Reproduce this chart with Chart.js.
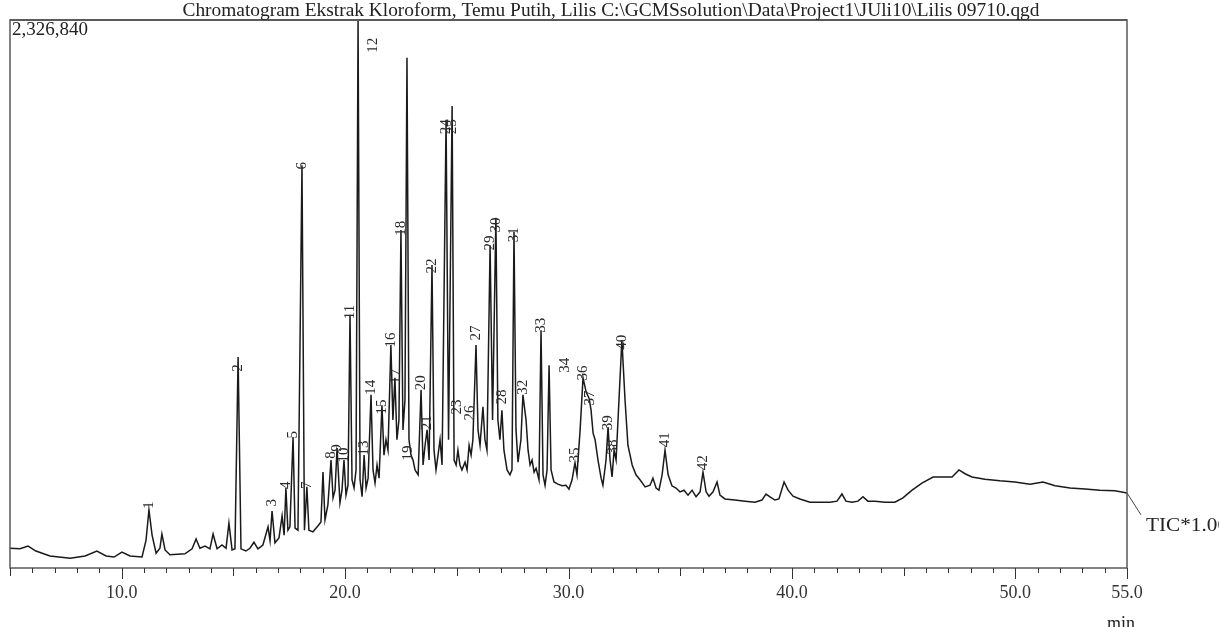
<!DOCTYPE html>
<html>
<head>
<meta charset="utf-8">
<script src="https://cdn.jsdelivr.net/npm/chart.js@4/dist/chart.umd.min.js"></script>
<style>
  html, body { margin: 0; padding: 0; background: #fff; }
  #wrap { position: relative; width: 1219px; height: 627px; }
</style>
</head>
<body>
<div id="wrap"><canvas id="chart" width="1219" height="627"></canvas></div>
<script>
// retention time (min) and TIC intensity (% of 2,326,840 full scale)
var retentionTime = [
  5.00, 5.45, 5.81, 6.16, 6.79, 7.69, 8.36, 8.89, 9.30, 9.66, 10.01, 10.37, 10.91,
  11.09, 11.22, 11.36, 11.54, 11.71, 11.80, 11.94, 12.16, 12.83, 13.15, 13.33, 13.50,
  13.73, 13.95, 14.09, 14.27, 14.49, 14.67, 14.80, 14.94, 15.07, 15.21, 15.34, 15.56,
  15.74, 15.92, 16.10, 16.32, 16.55, 16.64, 16.73, 16.86, 17.04, 17.18, 17.27, 17.35,
  17.44, 17.53, 17.67, 17.76, 17.89, 18.07, 18.18, 18.29, 18.38, 18.56, 18.79, 18.92,
  19.01, 19.10, 19.23, 19.37, 19.46, 19.55, 19.64, 19.77, 19.86, 19.95, 20.04, 20.13,
  20.22, 20.31, 20.40, 20.49, 20.58, 20.67, 20.76, 20.85, 20.94, 21.03, 21.16, 21.25,
  21.34, 21.43, 21.52, 21.65, 21.74, 21.83, 21.92, 22.05, 22.14, 22.23, 22.32, 22.41,
  22.50, 22.59, 22.68, 22.77, 22.86, 22.95, 23.04, 23.13, 23.27, 23.40, 23.49, 23.58,
  23.67, 23.76, 23.89, 23.98, 24.07, 24.16, 24.25, 24.34, 24.52, 24.63, 24.79, 24.88,
  24.97, 25.05, 25.14, 25.23, 25.37, 25.46, 25.55, 25.64, 25.72, 25.86, 25.95, 26.04,
  26.17, 26.26, 26.35, 26.49, 26.60, 26.75, 26.84, 26.93, 27.02, 27.11, 27.25, 27.38,
  27.47, 27.56, 27.65, 27.74, 27.87, 27.96, 28.10, 28.19, 28.28, 28.37, 28.46, 28.55,
  28.68, 28.77, 28.86, 28.95, 29.04, 29.13, 29.22, 29.35, 29.53, 29.71, 29.89, 30.02,
  30.16, 30.29, 30.38, 30.52, 30.65, 30.79, 30.92, 31.01, 31.10, 31.19, 31.32, 31.46,
  31.54, 31.68, 31.77, 31.86, 31.95, 32.04, 32.13, 32.26, 32.39, 32.53, 32.66, 32.85,
  33.02, 33.20, 33.43, 33.65, 33.78, 33.92, 34.05, 34.19, 34.32, 34.46, 34.63, 34.81,
  34.99, 35.17, 35.35, 35.53, 35.71, 35.89, 36.02, 36.16, 36.29, 36.47, 36.65, 36.78,
  37.00, 37.45, 37.90, 38.35, 38.66, 38.84, 39.02, 39.24, 39.42, 39.65, 39.83, 40.05,
  40.36, 40.81, 41.26, 41.71, 42.02, 42.24, 42.42, 42.69, 42.96, 43.18, 43.40, 43.72,
  44.17, 44.61, 44.97, 45.38, 45.82, 46.32, 46.85, 47.17, 47.48, 47.75, 48.06, 48.64,
  49.31, 49.98, 50.66, 51.24, 51.78, 52.45, 53.12, 53.79, 54.46, 55.00
];
var ticIntensity = [
  3.6, 3.5, 4.0, 3.1, 2.2, 1.8, 2.2, 3.1, 2.2, 2.0, 2.9, 2.2, 2.0,
  5.1, 10.6, 6.0, 2.7, 3.6, 6.2, 3.3, 2.4, 2.6, 3.5, 5.3, 3.6,
  4.0, 3.5, 6.2, 3.5, 4.2, 3.6, 8.2, 3.3, 3.5, 38.5, 3.5, 3.1,
  3.6, 4.7, 3.5, 4.2, 7.5, 5.0, 10.4, 4.6, 5.5, 9.5, 6.0, 14.6,
  6.9, 7.5, 23.9, 7.3, 6.9, 73.5, 6.9, 14.8, 6.9, 6.6, 7.7, 8.4,
  17.5, 8.8, 11.5, 19.7, 12.8, 14.2, 21.9, 11.9, 14.2, 19.7, 13.3, 15.1,
  46.2, 16.1, 14.6, 17.9, 100, 16.1, 13.0, 20.6, 14.6, 16.4, 31.6, 17.9,
  15.5, 18.8, 16.4, 29.7, 20.6, 23.4, 21.5, 40.7, 27.0, 34.7, 23.4, 27.0,
  61.7, 25.2, 30.7, 93.1, 23.4, 20.6, 19.7, 17.9, 17.0, 32.5, 18.8, 22.4,
  25.2, 19.7, 55.3, 21.5, 17.9, 20.6, 23.4, 18.8, 81.8, 23.4, 84.3, 19.7,
  18.8, 21.5, 18.8, 17.9, 19.3, 17.9, 22.4, 20.6, 23.4, 40.7, 25.2, 22.4,
  29.4, 23.4, 21.5, 58.9, 27.0, 63.9, 27.0, 23.4, 28.8, 21.5, 17.9, 17.0,
  17.9, 61.3, 25.2, 19.3, 23.4, 31.6, 27.0, 21.5, 18.8, 19.7, 17.5, 18.2,
  16.1, 43.4, 17.0, 15.1, 17.9, 37.0, 17.9, 15.7, 15.3, 15.0, 15.1, 14.4,
  16.1, 19.2, 17.0, 25.2, 34.7, 32.1, 31.0, 28.8, 24.6, 23.4, 19.7, 16.4,
  15.1, 19.7, 25.7, 19.7, 16.6, 21.5, 19.7, 30.7, 41.6, 30.7, 22.4, 18.8,
  17.0, 16.1, 14.8, 15.1, 16.4, 14.6, 14.2, 17.0, 21.5, 17.0, 15.0, 14.6,
  13.9, 14.2, 13.3, 14.2, 13.0, 13.9, 17.5, 13.9, 13.1, 13.9, 15.7, 13.3,
  12.6, 12.4, 12.2, 12.0, 12.4, 13.5, 13.0, 12.4, 12.6, 15.7, 14.2, 13.1,
  12.6, 12.0, 12.0, 12.0, 12.2, 13.5, 12.2, 12.0, 12.2, 13.0, 12.2, 12.2,
  12.0, 12.0, 12.8, 14.2, 15.5, 16.6, 16.6, 16.6, 17.9, 17.2, 16.6, 16.2,
  15.9, 15.7, 15.3, 15.7, 15.0, 14.6, 14.4, 14.2, 14.1, 13.7
];

// peak numbers, where their labels sit (time, intensity)
var peakNumbers = ["1","2","3","4","5","6","7","8","9","10","11","12","13","14","15","16","17","18","19","20","21",
  "22","23","24","25","26","27","28","29","30","31","32","33","34","35","36","37","38","39","40","41","42"];
var peakTimes = [11.22, 15.21, 16.73, 17.35, 17.67, 18.07, 18.29, 19.37, 19.64, 19.95, 20.22, 21.25, 20.85, 21.16,
  21.65, 22.05, 22.28, 22.50, 22.81, 23.40, 23.67, 23.89, 25.01, 24.52, 24.79, 25.59, 25.86, 27.02, 26.49,
  26.75, 27.56, 27.96, 28.77, 29.84, 30.29, 30.65, 30.96, 31.99, 31.77, 32.39, 34.32, 36.02];
var peakLevels = [11.5, 36.5, 11.9, 15.1, 24.3, 73.4, 15.1, 20.6, 21.9, 20.6, 46.7, 95.4, 21.9, 33.0,
  29.4, 41.6, 35.0, 62.0, 21.0, 33.8, 26.5, 55.1, 29.4, 80.5, 80.5, 28.3, 42.9, 31.2, 59.3,
  62.6, 60.8, 33.0, 44.3, 37.0, 20.6, 35.6, 31.0, 22.1, 26.5, 41.2, 23.4, 19.2];

var labeledMinutes = [10, 20, 30, 40, 50, 55];
var chartTitle = "Chromatogram Ekstrak Kloroform, Temu Putih, Lilis C:\\GCMSsolution\\Data\\Project1\\JUli10\\Lilis 09710.qgd";
var fullScale = "2,326,840";
var traceName = "TIC*1.00";

var SERIF = "'Liberation Serif', 'DejaVu Serif', serif";

function fitText(ctx, text, x, y, width, align) {
  var w = ctx.measureText(text).width;
  var sx = width / w;
  ctx.save();
  ctx.translate(x, y);
  ctx.scale(sx, 1);
  ctx.textAlign = align;
  ctx.fillText(text, 0, 0);
  ctx.restore();
}

var chromPlugin = {
  id: 'chrom',
  afterDraw: function(chart) {
    var ctx = chart.ctx, a = chart.chartArea;
    var xs = chart.scales.x, ys = chart.scales.y;
    ctx.save();

    // frame
    ctx.strokeStyle = '#5a5a5a';
    ctx.lineWidth = 1.5;
    ctx.strokeRect(a.left, a.top, a.right - a.left, a.bottom - a.top);
    ctx.lineWidth = 2;
    ctx.beginPath(); ctx.moveTo(a.left, a.top); ctx.lineTo(a.right, a.top); ctx.stroke();

    // minute ticks
    ctx.strokeStyle = '#333';
    ctx.lineWidth = 1;
    for (var m = xs.min; m <= xs.max; m++) {
      var px = Math.round(xs.getPixelForValue(m)) + 0.5;
      var len = (m % 10 === 0 || m === xs.max) ? 11 : (m % 5 === 0 ? 8 : 5);
      ctx.beginPath(); ctx.moveTo(px, a.bottom); ctx.lineTo(px, a.bottom + len); ctx.stroke();
    }

    // peak numbers
    ctx.fillStyle = '#2a2a2a';
    ctx.font = '15px ' + SERIF;
    ctx.textAlign = 'center';
    ctx.textBaseline = 'middle';
    peakNumbers.forEach(function(no, i) {
      var px = xs.getPixelForValue(peakTimes[i]);
      var py = ys.getPixelForValue(peakLevels[i]);
      ctx.save();
      ctx.translate(px, py);
      ctx.rotate(-Math.PI / 2);
      ctx.fillText(no, 0, 0);
      ctx.restore();
    });

    // texts
    ctx.fillStyle = '#222';
    ctx.textBaseline = 'middle';
    ctx.font = '18px ' + SERIF;
    fitText(ctx, chartTitle, 611, 11, 857, 'center');
    fitText(ctx, fullScale, 12, 30, 76, 'left');
    ctx.font = '19px ' + SERIF;
    fitText(ctx, traceName, 1146, 526, 82, 'left');
    ctx.font = '18px ' + SERIF;
    ctx.textAlign = 'center';
    ctx.fillText('min', a.right - 6, 624);

    // leader line to trace name
    var endY = ys.getPixelForValue(ticIntensity[ticIntensity.length - 1]);
    ctx.strokeStyle = '#444';
    ctx.beginPath(); ctx.moveTo(a.right, endY); ctx.lineTo(a.right + 14, endY + 22); ctx.stroke();

    ctx.restore();
  }
};

var points = retentionTime.map(function(t, i) { return { x: t, y: ticIntensity[i] }; });

new Chart(document.getElementById('chart'), {
  type: 'line',
  data: {
    datasets: [{
      label: traceName,
      data: points,
      borderColor: '#1a1a1a',
      borderWidth: 1.5,
      pointRadius: 0,
      tension: 0,
      fill: false
    }]
  },
  options: {
    responsive: false,
    animation: false,
    layout: { padding: { left: 10, right: 92, top: 20, bottom: 0 } },
    plugins: {
      legend: { display: false },
      tooltip: { enabled: false },
      title: { display: false }
    },
    scales: {
      x: {
        type: 'linear',
        min: 5,
        max: 55,
        afterBuildTicks: function(scale) {
          var ticks = [];
          for (var m = 5; m <= 55; m++) ticks.push({ value: m });
          scale.ticks = ticks;
        },
        afterFit: function(scale) {
          scale.height = 59;
          scale.paddingLeft = 0;
          scale.paddingRight = 0;
        },
        grid: { display: false, drawOnChartArea: false, drawTicks: false },
        border: { display: false },
        ticks: {
          autoSkip: false,
          maxRotation: 0,
          padding: 14,
          color: '#333',
          font: { family: SERIF, size: 18 },
          callback: function(v) {
            return labeledMinutes.indexOf(v) >= 0 ? v.toFixed(1) : '';
          }
        }
      },
      y: { display: false, min: 0, max: 100 }
    }
  },
  plugins: [chromPlugin]
});
</script>
</body>
</html>
